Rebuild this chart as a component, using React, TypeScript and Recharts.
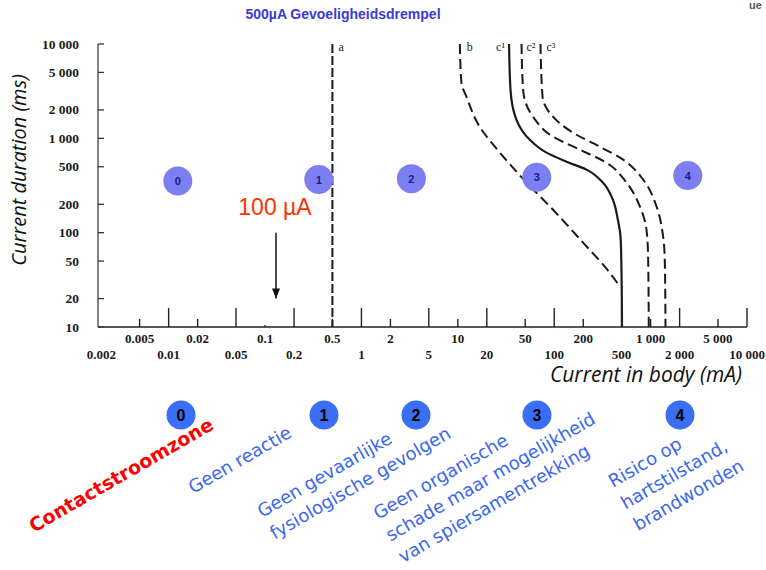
import React from 'react';
import { ComposedChart, XAxis, YAxis, Line, Scatter } from 'recharts';

// ---- axis ticks ----
const xTicks = [0.002, 0.005, 0.01, 0.02, 0.05, 0.1, 0.2, 0.5, 1, 2, 5, 10, 20, 50, 100, 200, 500, 1000, 2000, 5000, 10000];
const xTickLabels = ['0.002', '0.005', '0.01', '0.02', '0.05', '0.1', '0.2', '0.5', '1', '2', '5', '10', '20', '50', '100', '200', '500', '1 000', '2 000', '5 000', '10 000'];
const yTicks = [10, 20, 50, 100, 200, 500, 1000, 2000, 5000, 10000];
const yTickLabels = ['10', '20', '50', '100', '200', '500', '1 000', '2 000', '5 000', '10 000'];

// ---- curves (current mA, duration ms) ----
const curveA = [{ x: 0.5, y: 10000 }, { x: 0.5, y: 10 }];
const curveB = [
  { x: 10.5, y: 10000 }, { x: 10.9, y: 3860 }, { x: 12.3, y: 2750 }, { x: 16.9, y: 1320 },
  { x: 27.2, y: 710 }, { x: 51.6, y: 340 }, { x: 96.7, y: 176 }, { x: 198, y: 79 },
  { x: 352, y: 41 }, { x: 479, y: 27 },
];
const curveC1 = [
  { x: 34, y: 10000 }, { x: 35.2, y: 3260 }, { x: 40.6, y: 1570 }, { x: 55.8, y: 966 },
  { x: 83.2, y: 705 }, { x: 134, y: 566 }, { x: 216, y: 466 }, { x: 319, y: 340 },
  { x: 405, y: 225 }, { x: 457, y: 138 }, { x: 487, y: 91 }, { x: 497, y: 49 }, { x: 505, y: 10 },
];
const curveC2 = [
  { x: 45.8, y: 10000 }, { x: 47.6, y: 3260 }, { x: 60.4, y: 1690 }, { x: 97.3, y: 1040 },
  { x: 184, y: 760 }, { x: 348, y: 552 }, { x: 562, y: 340 }, { x: 773, y: 190 },
  { x: 906, y: 108 }, { x: 942, y: 56 }, { x: 957, y: 10 },
];
const curveC3 = [
  { x: 72.1, y: 10000 }, { x: 75.7, y: 2750 }, { x: 97.3, y: 1690 }, { x: 157, y: 1145 },
  { x: 297, y: 815 }, { x: 519, y: 594 }, { x: 836, y: 366 }, { x: 1151, y: 190 },
  { x: 1348, y: 91 }, { x: 1404, y: 49 }, { x: 1427, y: 10 },
];
const curveLabels = [
  { x: 0.5, y: 10000, label: 'a' },
  { x: 10.5, y: 10000, label: 'b' },
  { x: 34, y: 10000, label: 'c¹' },
  { x: 45.8, y: 10000, label: 'c²' },
  { x: 72.1, y: 10000, label: 'c³' },
];
const zones = [
  { x: 0.01245, y: 352, label: '0' },
  { x: 0.361, y: 366, label: '1' },
  { x: 3.3, y: 374, label: '2' },
  { x: 65.9, y: 386, label: '3' },
  { x: 2432, y: 403, label: '4' },
];
const arrow100uA = [{ x: 0.13, y: 100 }, { x: 0.13, y: 20 }];
const arrowText = '100 µA';

// ---- texts ----
const titleText = '500µA Gevoeligheidsdrempel';
const yTitle = 'Current duration (ms)';
const xTitle = 'Current in body (mA)';
const legendNumbers = ['0', '1', '2', '3', '4'];
const legendRed = 'Contactstroomzone';
const legendTexts = [
  ['Geen reactie'],
  ['Geen gevaarlijke', 'fysiologische gevolgen'],
  ['Geen organische', 'schade maar mogelijkheid', 'van spiersamentrekking'],
  ['Risico op', 'hartstilstand,', 'brandwonden'],
];

// layout (styling) of the slide annotations
const legendCircleX = [181, 324, 416, 537, 680];
const legendTextPos = [[193, 494], [262, 518], [378, 520], [613, 488]];
const labelOffsets: Record<string, [number, number, 'start' | 'end']> = {
  a: [6, 7, 'start'],
  b: [7, 7, 'start'],
  'c¹': [-4, 7, 'end'],
  'c²': [5, 7, 'start'],
  'c³': [6, 7, 'start'],
};

const serif = "'Liberation Serif', 'DejaVu Serif', serif";
const sans = "'Liberation Sans', Arial, sans-serif";
const verd = "'DejaVu Sans', Verdana, sans-serif";

const XTick = (props: any) => {
  const { x, y, payload } = props;
  const i = xTicks.indexOf(payload.value);
  const row2 = i % 2 === 0;
  const v = xTicks[i];
  const h = i === 0 ? 0 : v === 0.1 ? 2 : row2 ? 19 : 8;
  return (
    <g>
      {h > 0 && <line x1={x} x2={x} y1={y} y2={y - h} stroke="#222" strokeWidth={1.4} />}
      <text x={x} y={y + (row2 ? 32 : 16)} textAnchor="middle" fontFamily={serif} fontWeight="bold" fontSize={13} fill="#1a1a1a">
        {xTickLabels[i]}
      </text>
    </g>
  );
};

const YTick = (props: any) => {
  const { x, y, payload } = props;
  const i = yTicks.indexOf(payload.value);
  return (
    <g>
      <line x1={x} x2={x + 6} y1={y} y2={y} stroke="#333" strokeWidth={1.3} />
      <text x={x - 19} y={y + 4.5} textAnchor="end" fontFamily={serif} fontWeight="bold" fontSize={13.5} fill="#1a1a1a">
        {yTickLabels[i]}
      </text>
    </g>
  );
};

const ZoneShape = (props: any) => {
  const { cx, cy, payload } = props;
  return (
    <g>
      <circle cx={cx} cy={cy} r={14.5} fill="#7b7ff2" />
      <text x={cx} y={cy + 4} textAnchor="middle" fontFamily={sans} fontWeight="bold" fontSize={11} fill="#1c1c8c">
        {payload.label}
      </text>
    </g>
  );
};

const CurveLabelShape = (props: any) => {
  const { cx, cy, payload } = props;
  const off = labelOffsets[payload.label] || [5, 7, 'start'];
  return (
    <text x={cx + off[0]} y={cy + off[1]} textAnchor={off[2]} fontFamily={serif} fontSize={12} fill="#222">
      {payload.label}
    </text>
  );
};

const ArrowDot = (props: any) => {
  const { cx, cy, index } = props;
  if (index === 0) {
    return (
      <text key="t" x={cx - 1} y={cy - 18} textAnchor="middle" fontFamily={sans} fontSize={23} fill="#ff3300">
        {arrowText}
      </text>
    );
  }
  return <polygon key="h" points={`${cx - 4},${cy - 10} ${cx + 4},${cy - 10} ${cx},${cy}`} fill="#111" />;
};

export default function App() {
  return (
    <div style={{ position: 'absolute', left: 0, top: 0, width: 766, height: 570, background: '#fff' }}>
      <ComposedChart width={766} height={570} margin={{ top: 44, right: 19, bottom: 203, left: 38 }}>
        <XAxis
          dataKey="x"
          type="number"
          scale="log"
          domain={[0.00185, 10000]}
          ticks={xTicks}
          interval={0}
          tick={<XTick />}
          tickLine={false}
          tickSize={0}
          tickMargin={0}
          height={40}
          axisLine={{ stroke: '#222', strokeWidth: 1.6 }}
        />
        <YAxis
          dataKey="y"
          type="number"
          scale="log"
          domain={[10, 10000]}
          ticks={yTicks}
          interval={0}
          tick={<YTick />}
          tickLine={false}
          tickSize={0}
          tickMargin={0}
          width={60}
          axisLine={{ stroke: '#333', strokeWidth: 1.2 }}
        />
        <Scatter data={zones} shape={<ZoneShape />} isAnimationActive={false} />
        <Line data={curveA} dataKey="y" type="linear" stroke="#1a1a1a" strokeWidth={2} strokeDasharray="9 3" dot={false} isAnimationActive={false} />
        <Line data={curveB} dataKey="y" type="monotoneY" stroke="#1a1a1a" strokeWidth={2} strokeDasharray="10 5" dot={false} isAnimationActive={false} />
        <Line data={curveC1} dataKey="y" type="monotoneY" stroke="#1a1a1a" strokeWidth={2.2} dot={false} isAnimationActive={false} />
        <Line data={curveC2} dataKey="y" type="monotoneY" stroke="#1a1a1a" strokeWidth={2} strokeDasharray="10 5" dot={false} isAnimationActive={false} />
        <Line data={curveC3} dataKey="y" type="monotoneY" stroke="#1a1a1a" strokeWidth={2} strokeDasharray="10 5" dot={false} isAnimationActive={false} />
        <Line data={arrow100uA} dataKey="y" type="linear" stroke="#111" strokeWidth={1.5} dot={(p: any) => <ArrowDot key={p.index} {...p} />} isAnimationActive={false} />
        <Scatter data={curveLabels} shape={<CurveLabelShape />} isAnimationActive={false} />
      </ComposedChart>
      <svg width={766} height={570} style={{ position: 'absolute', left: 0, top: 0, pointerEvents: 'none' }}>
        <text x={343} y={19} textAnchor="middle" fontFamily={sans} fontWeight="bold" fontSize={14} fill="#3a3ad6">{titleText}</text>
        <text x={749} y={9} fontFamily={sans} fontWeight="bold" fontSize={11} fill="#556">ue</text>
        <text transform="translate(26,170) rotate(-90)" textAnchor="middle" fontFamily="'Open Sans', sans-serif" fontStyle="italic" fontSize={20} fill="#111">{yTitle}</text>
        <text x={742} y={382} textAnchor="end" fontFamily="'Open Sans', sans-serif" fontStyle="italic" fontSize={21} fill="#111">{xTitle}</text>
        {legendNumbers.map((n, i) => (
          <g key={n}>
            <circle cx={legendCircleX[i]} cy={415} r={14.5} fill="#3b6ef6" />
            <text x={legendCircleX[i]} y={420.5} textAnchor="middle" fontFamily={sans} fontWeight="bold" fontSize={16} fill="#000">{n}</text>
          </g>
        ))}
        <text transform="translate(34,533) rotate(-30)" fontFamily={verd} fontWeight="bold" fontSize={19} fill="#ff0000">{legendRed}</text>
        {legendTexts.map((lines, i) => (
          <text key={i} transform={`translate(${legendTextPos[i][0]},${legendTextPos[i][1]}) rotate(-30)`} fontFamily={verd} fontSize={18} fill="#3a66f0">
            {lines.map((l, j) => (
              <tspan key={j} x={0} dy={j === 0 ? 0 : 25}>{l}</tspan>
            ))}
          </text>
        ))}
      </svg>
    </div>
  );
}
